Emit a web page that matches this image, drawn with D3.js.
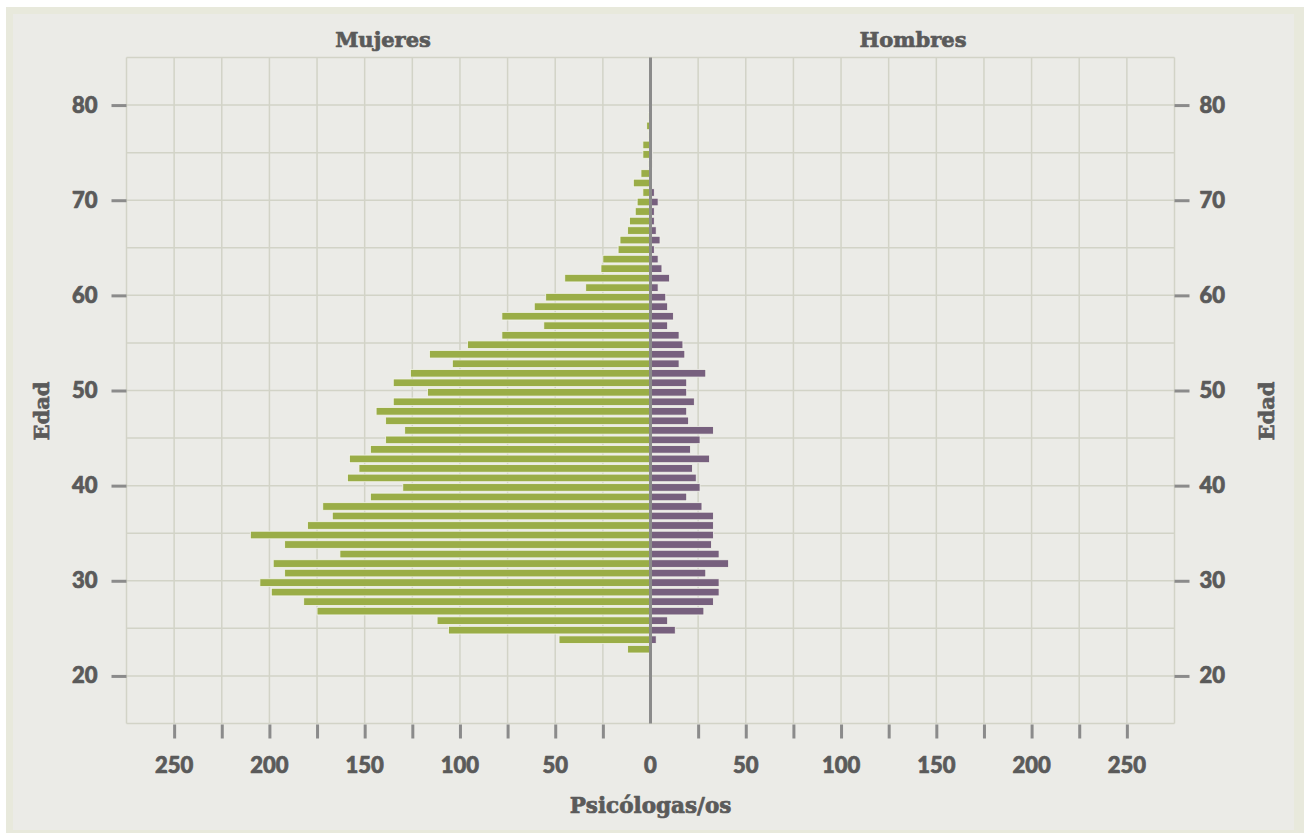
<!DOCTYPE html>
<html>
<head>
<meta charset="utf-8">
<script src="https://cdn.jsdelivr.net/npm/d3@7"></script>
<style>
  html, body { margin: 0; padding: 0; background: #ffffff; }
  svg { display: block; }
</style>
</head>
<body>
<div id="chart"></div>
<script>
// ---- Data ----
const ages = [23,24,25,26,27,28,29,30,31,32,33,34,35,36,37,38,39,40,41,42,43,44,45,46,47,48,49,50,
              51,52,53,54,55,56,57,58,59,60,61,62,63,64,65,66,67,68,69,70,71,72,73,74,75,76,77,78,79];
const mujeres = [12,48,106,112,175,182,199,205,192,198,163,192,210,180,167,172,147,130,159,153,158,147,139,129,139,144,135,117,
                 135,126,104,116,96,78,56,78,61,55,34,45,26,25,17,16,12,11,8,7,4,9,5,1,4,4,1,2,1];
const hombres = [0,3,13,9,28,33,36,36,29,41,36,32,33,33,33,27,19,26,24,22,31,21,26,33,20,19,23,19,
                 19,29,15,18,17,15,9,12,9,8,4,10,6,4,2,5,3,2,2,4,2,0,0,1,1,0,0,0,0];
const xTickLabels = [-250,-200,-150,-100,-50,0,50,100,150,200,250];
const yTickLabels = [20,30,40,50,60,70,80];
const titles = ["Mujeres", "Hombres"];
const xTitle = "Psicólogas/os";
const yTitle = "Edad";

// ---- Layout ----
const W = 1304, H = 833;
const svg = d3.select("#chart").append("svg").attr("width", W).attr("height", H);

svg.append("rect").attr("x", 6).attr("y", 7).attr("width", W - 6).attr("height", H - 7).attr("fill", "#e8e9dc");
svg.append("rect").attr("x", 13).attr("y", 14).attr("width", 1281).attr("height", 816).attr("fill", "#ebebe7");

const x = d3.scaleLinear().domain([-275, 275]).range([126.5, 1174.5]);
const y = d3.scaleLinear().domain([15, 85]).range([723.5, 57.5]);

const gridColor = "#d2d3c7";
const textColor = "#5a5a5a";
const tickColor = "#8b8b8b";
const labelFont = "Lato, 'Open Sans', sans-serif";
const titleFont = "'DejaVu Serif', serif";

// grid
const g = svg.append("g");
g.selectAll("line.v").data(d3.range(-275, 276, 25)).join("line")
  .attr("x1", d => x(d)).attr("x2", d => x(d))
  .attr("y1", y(85)).attr("y2", y(15))
  .attr("stroke", gridColor).attr("stroke-width", 1.5);
g.selectAll("line.h").data(d3.range(15, 86, 5)).join("line")
  .attr("x1", x(-275)).attr("x2", x(275))
  .attr("y1", d => y(d)).attr("y2", d => y(d))
  .attr("stroke", gridColor).attr("stroke-width", 1.5);

// bars
const barH = 7.6, barOff = 1.8;
const data = ages.map((a, i) => ({age: a, m: mujeres[i], h: hombres[i]}));
svg.append("g").selectAll("rect").data(data.filter(d => d.m > 0)).join("rect")
  .attr("x", d => x(-d.m)).attr("width", d => x(0) - x(-d.m))
  .attr("y", d => y(d.age) - barH / 2 + barOff).attr("height", barH)
  .attr("fill", "#9aad47").attr("stroke", "#f3f4ec").attr("stroke-width", 0.8);
svg.append("g").selectAll("rect").data(data.filter(d => d.h > 0)).join("rect")
  .attr("x", x(0)).attr("width", d => x(d.h) - x(0))
  .attr("y", d => y(d.age) - barH / 2 + barOff).attr("height", barH)
  .attr("fill", "#77607e").attr("stroke", "#f3f4ec").attr("stroke-width", 0.8);

// center axis
svg.append("line").attr("x1", x(0)).attr("x2", x(0)).attr("y1", y(85)).attr("y2", y(15))
  .attr("stroke", tickColor).attr("stroke-width", 3);

// bottom axis
const xAxis = d3.axisBottom(x)
  .tickValues(d3.range(-250, 251, 25).filter(d => d !== 0))
  .tickSize(14).tickFormat("");
const gx = svg.append("g").attr("transform", `translate(0,${y(15) + 1})`).call(xAxis);
gx.select(".domain").remove();
gx.selectAll(".tick line").attr("stroke", tickColor).attr("stroke-width", 3);

function heavy(sel, size, fam) {
  sel.attr("font-family", fam).attr("font-weight", 900).attr("font-size", size)
     .attr("fill", textColor).attr("stroke", textColor).attr("stroke-width", 0.7)
     .attr("stroke-linejoin", "round");
}

heavy(svg.append("g").selectAll("text").data(xTickLabels).join("text")
  .attr("x", d => x(d)).attr("y", 773)
  .attr("text-anchor", "middle")
  .text(d => Math.abs(d)), 22, labelFont);

// left / right axes
const yAxisL = d3.axisLeft(y).tickValues(yTickLabels).tickSize(15).tickPadding(14);
const gl = svg.append("g").attr("transform", `translate(${x(-275)},0)`).call(yAxisL);
const yAxisR = d3.axisRight(y).tickValues(yTickLabels).tickSize(15).tickPadding(10);
const gr = svg.append("g").attr("transform", `translate(${x(275)},0)`).call(yAxisR);
[gl, gr].forEach(ga => {
  ga.select(".domain").remove();
  ga.selectAll(".tick line").attr("stroke", tickColor).attr("stroke-width", 3);
  heavy(ga.selectAll(".tick text"), 22, labelFont);
});

// titles
heavy(svg.append("g").selectAll("text").data(titles).join("text")
  .attr("x", (d, i) => i === 0 ? 383 : 913).attr("y", 47)
  .attr("text-anchor", "middle").text(d => d), 21, titleFont);

heavy(svg.append("text").attr("x", x(0)).attr("y", 813)
  .attr("text-anchor", "middle").text(xTitle), 21.5, titleFont);

[42, 1267].forEach(cx => {
  heavy(svg.append("text")
    .attr("transform", `translate(${cx},411) rotate(-90)`)
    .attr("text-anchor", "middle").attr("dy", "0.35em")
    .text(yTitle), 21, titleFont);
});
</script>
</body>
</html>
